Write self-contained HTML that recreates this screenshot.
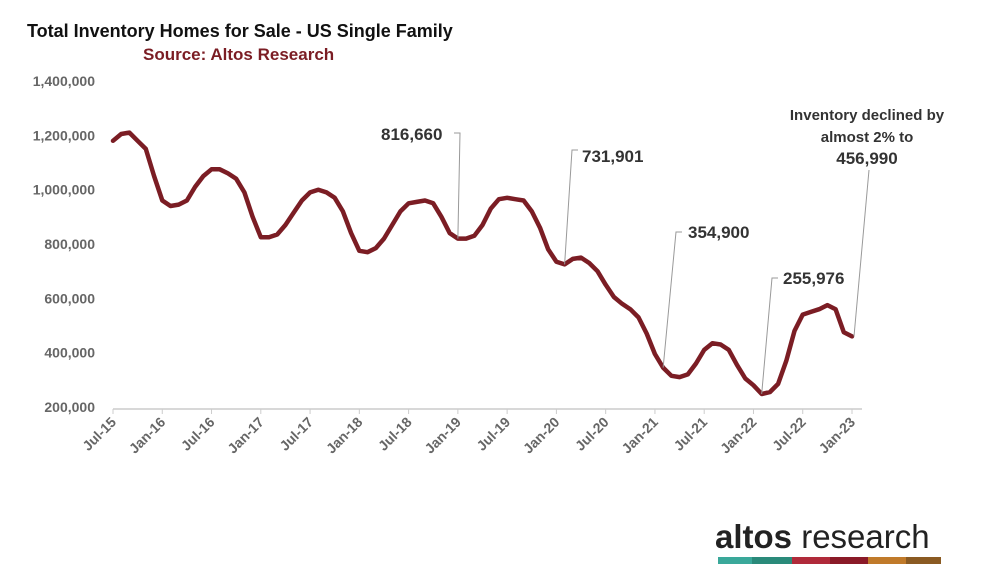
<!DOCTYPE html>
<html><head><meta charset="utf-8"><style>
body{margin:0;background:#fff;width:988px;height:575px;overflow:hidden;font-family:"Liberation Sans",sans-serif;}
svg text{font-family:"Liberation Sans",sans-serif;}
</style></head><body>
<svg id="chart" width="988" height="575">
<text x="27" y="37" font-size="18" font-weight="bold" fill="#111">Total Inventory Homes for Sale - US Single Family</text>
<text x="143" y="60" font-size="17" font-weight="bold" fill="#7b1d24">Source: Altos Research</text>
<g id="yaxis"></g>
<g id="xaxis"></g>
<g id="series"></g>
<g id="annos"></g>
<g>
<text x="715" y="548" font-size="33" fill="#222"><tspan font-weight="bold">altos</tspan> research</text>
<rect x="718" y="557" width="34" height="7" fill="#3aa89a"/><rect x="752" y="557" width="40" height="7" fill="#2a8a7a"/>
<rect x="792" y="557" width="38" height="7" fill="#b02a3a"/><rect x="830" y="557" width="38" height="7" fill="#8a1a28"/>
<rect x="868" y="557" width="38" height="7" fill="#c07a2a"/><rect x="906" y="557" width="35" height="7" fill="#8a5a22"/>
</g>
</svg>
<script>
const values=[1180000,1205000,1210000,1180000,1150000,1050000,960000,940000,945000,960000,1010000,1050000,
1075000,1075000,1060000,1040000,990000,900000,825000,825000,835000,870000,915000,960000,
990000,1000000,990000,970000,920000,840000,775000,770000,785000,820000,870000,920000,
950000,955000,960000,950000,900000,840000,820000,820000,830000,870000,930000,965000,
970000,965000,960000,920000,860000,780000,735000,725000,745000,750000,730000,700000,
650000,605000,580000,560000,530000,470000,395000,345000,315000,310000,320000,360000,
410000,435000,430000,410000,355000,305000,280000,248000,255000,285000,370000,480000,
540000,550000,560000,575000,560000,475000,460000];
const yTicks=[200000,400000,600000,800000,1000000,1200000,1400000];
const xLabels=["Jul-15","Jan-16","Jul-16","Jan-17","Jul-17","Jan-18","Jul-18","Jan-19","Jul-19","Jan-20","Jul-20","Jan-21","Jul-21","Jan-22","Jul-22","Jan-23"];
const annotations=[
 {label:"816,660",month:42,tx:381,ty:140,cx:460,cy:133},
 {label:"731,901",month:55,tx:582,ty:162,cx:572,cy:150},
 {label:"354,900",month:67,tx:688,ty:238,cx:676,cy:232},
 {label:"255,976",month:79,tx:783,ty:284,cx:772,cy:278}
];
const NS="http://www.w3.org/2000/svg";
const x0=113,x1=852,y0=407,y1=81;
const xs=m=>x0+(x1-x0)*m/90;
const ys=v=>y0-(v-200000)/(1200000)*(y0-y1);
function mk(t,a,p){const e=document.createElementNS(NS,t);for(const k in a)e.setAttribute(k,a[k]);p.appendChild(e);return e;}
const ya=document.getElementById('yaxis');
yTicks.forEach(v=>{const t=mk('text',{x:95,y:ys(v)+5,'text-anchor':'end','font-size':14,'font-weight':'bold',fill:'#666'},ya);


t.textContent=v.toLocaleString('en-US');});
const xa=document.getElementById('xaxis');
const ax=mk('line',{x1:x0,x2:862,y1:y0+2,y2:y0+2,stroke:'#ccc','stroke-width':1.5},xa);


xLabels.forEach((l,i)=>{const x=xs(i*6);
const tk=mk('line',{x1:x,x2:x,y1:y0+2,y2:y0+7,stroke:'#ccc'},xa);


const t=mk('text',{x:x+4,y:y0+16,'text-anchor':'end','font-size':14,'font-weight':'bold',fill:'#666',transform:`rotate(-45 ${x+4} ${y0+16})`},xa);


t.textContent=l;});
const s=document.getElementById('series');
const p=mk('path',{d:values.map((v,i)=>(i?'L':'M')+xs(i).toFixed(1)+','+ys(v).toFixed(1)).join(''),fill:'none',stroke:'#7b1d24','stroke-width':4.5,'stroke-linejoin':'round','stroke-linecap':'round'},s);


const an=document.getElementById('annos');
annotations.forEach(a=>{const px=xs(a.month),py=ys(values[a.month]);
const ln=mk('polyline',{points:`${a.cx+(a.cx<a.tx?6:-6)},${a.cy} ${a.cx},${a.cy} ${px},${py}`,fill:'none',stroke:'#999','stroke-width':1},an);


const t=mk('text',{x:a.tx,y:a.ty,'font-size':17,'font-weight':'bold',fill:'#333'},an);


t.textContent=a.label;});
const last=values.length-1;
const ll=mk('line',{x1:869,y1:170,x2:xs(last)+2,y2:ys(values[last]),stroke:'#999','stroke-width':1},an);


["Inventory declined by","almost 2% to","456,990"].forEach((l,i)=>{const t=mk('text',{x:867,y:[120,142,164][i],'text-anchor':'middle','font-size':i==2?17:15,'font-weight':'bold',fill:'#333'},an);


t.textContent=l;});
</script>
</body></html>
